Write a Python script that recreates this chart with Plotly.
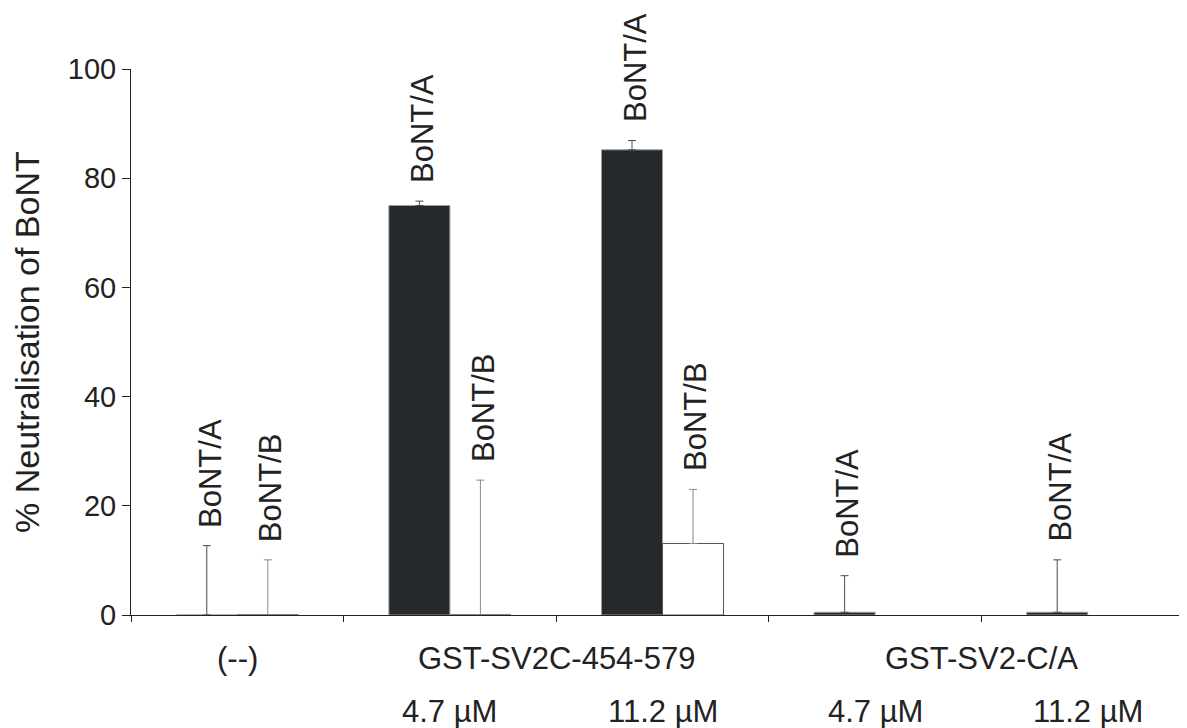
import plotly.graph_objects as go

# ---- data ----
slots = ["(--)", "SV2C 4.7", "SV2C 11.2", "C/A 4.7", "C/A 11.2"]
bont_a = [0.0, 75.0, 85.2, 0.5, 0.5]
bont_a_err = [12.7, 0.8, 1.7, 6.7, 9.6]
bont_b = [0.0, 0.0, 13.1, None, None]
bont_b_err = [10.1, 24.7, 9.9, None, None]
group_labels = ["(--)", "GST-SV2C-454-579", "GST-SV2-C/A"]
group_pos = [0, 1.5, 3.5]
conc_labels = ["4.7 µM", "11.2 µM", "4.7 µM", "11.2 µM"]
conc_pos = [1, 2, 3, 4]
y_ticks = [0, 20, 40, 60, 80, 100]

FONT = "Liberation Sans, Arial, sans-serif"
TXT = "#222222"
BW = 0.287

xs = list(range(len(slots)))

fig = go.Figure()
fig.add_trace(go.Bar(
    x=xs, y=bont_a, width=BW, offset=-BW, name="BoNT/A",
    marker=dict(color="#25292b", line=dict(color="#9a9c9e", width=1)),
    error_y=dict(type="data", symmetric=False, array=bont_a_err,
                 arrayminus=[0] * len(xs), color="#4a4a4a", thickness=1, width=4),
    showlegend=False,
))
fig.add_trace(go.Bar(
    x=xs, y=bont_b, width=BW, offset=0, name="BoNT/B",
    marker=dict(color="white", line=dict(color="#555555", width=1)),
    error_y=dict(type="data", symmetric=False, array=[e if e is not None else 0 for e in bont_b_err],
                 arrayminus=[0] * len(xs), color="#8a8a8a", thickness=1, width=4),
    showlegend=False,
))

annotations = []
lab_font = dict(family=FONT, size=31, color=TXT)
for i, (v, e) in enumerate(zip(bont_a, bont_a_err)):
    annotations.append(dict(x=i - BW / 2, y=v + e, xref="x", yref="y", text="BoNT/A",
                            textangle=-90, showarrow=False, xanchor="center", yanchor="bottom",
                            yshift=16, xshift=3, font=lab_font))
for i, (v, e) in enumerate(zip(bont_b, bont_b_err)):
    if v is None:
        continue
    annotations.append(dict(x=i + BW / 2, y=v + e, xref="x", yref="y", text="BoNT/B",
                            textangle=-90, showarrow=False, xanchor="center", yanchor="bottom",
                            yshift=16, xshift=3, font=lab_font))
for lab, p in zip(group_labels, group_pos):
    annotations.append(dict(x=p, y=-0.080, xref="x", yref="paper", text=lab, showarrow=False,
                            xanchor="center", yanchor="middle",
                            font=dict(family=FONT, size=31, color=TXT)))
for lab, p in zip(conc_labels, conc_pos):
    annotations.append(dict(x=p, y=-0.176, xref="x", yref="paper", text=lab, showarrow=False,
                            xanchor="center", yanchor="middle",
                            font=dict(family=FONT, size=31, color=TXT)))
# y-axis title
annotations.append(dict(x=-0.0985, y=0.5, xref="paper", yref="paper", text="% Neutralisation of BoNT",
                        textangle=-90, showarrow=False, xanchor="center", yanchor="middle",
                        font=dict(family=FONT, size=34, color=TXT)))

# page body has an 8px margin, so the figure is sized to the remaining viewport
fig.update_layout(
    width=1179, height=720,
    margin=dict(l=123, r=0, t=61, b=113),
    paper_bgcolor="white", plot_bgcolor="white",
    barmode="overlay",
    font=dict(family=FONT, color=TXT),
    annotations=annotations,
    xaxis=dict(range=[-0.5, 4.467], tickvals=[-0.5, 0.5, 1.5, 2.5, 3.5], ticktext=[""] * 5,
               showticklabels=False, ticks="outside", ticklen=6, tickcolor="#222",
               showline=True, linecolor="#222", linewidth=1, showgrid=False, zeroline=False,
               automargin=False),
    yaxis=dict(range=[0, 100], tickvals=y_ticks, ticks="outside", ticklen=8, tickcolor="#222",
               showline=True, linecolor="#222", linewidth=1, showgrid=False, zeroline=False,
               tickfont=dict(family=FONT, size=29, color=TXT), automargin=False),
)

fig.write_html("out.html")
